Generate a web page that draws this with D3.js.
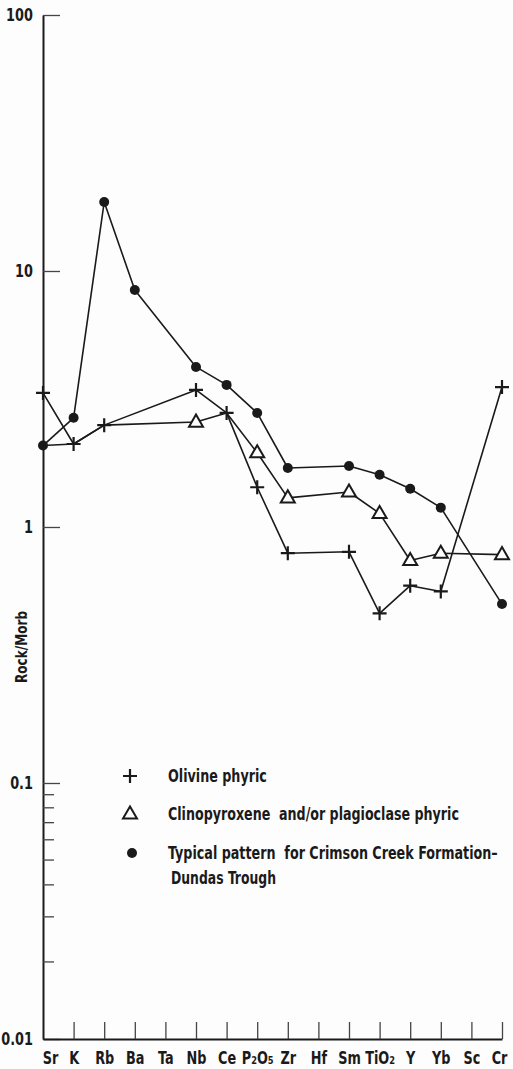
<!DOCTYPE html>
<html>
<head>
<meta charset="utf-8">
<script src="https://cdn.jsdelivr.net/npm/d3@7"></script>
<style>
  body { margin: 0; background: #fdfdfd; }
  svg text { font-family: "Liberation Sans Narrow", "DejaVu Sans Condensed", "Roboto Condensed", sans-serif; font-weight: bold; fill: #1a1a1a; }
</style>
</head>
<body>
<div id="chart"></div>
<script>
/* element order along the x axis */
const elements = ["Sr", "K", "Rb", "Ba", "Ta", "Nb", "Ce", "P2O5", "Zr", "Hf", "Sm", "TiO2", "Y", "Yb", "Sc", "Cr"];

/* rock / MORB ratios (null = not plotted) */
const olivineValues = [3.34, 2.11, 2.50, null, null, 3.43, 2.79, 1.43, 0.79, null, 0.80, 0.46, 0.59, 0.56, null, 3.52];
const cpxValues     = [2.08, 2.11, 2.50, null, null, 2.57, 2.79, 1.95, 1.30, null, 1.37, 1.13, 0.74, 0.79, null, 0.78];
/* the cpx line runs through shared points; triangles only drawn here */
const cpxMarked     = ["Nb", "P2O5", "Zr", "Sm", "TiO2", "Y", "Yb", "Cr"];
const crimsonValues = [2.08, 2.67, 18.6, 8.43, null, 4.22, 3.59, 2.79, 1.70, null, 1.73, 1.60, 1.41, 1.19, null, 0.50];

const yMajorTicks = [100, 10, 1, 0.1, 0.01];
const yMinorTicks = [0.02, 0.03, 0.04, 0.05, 0.06, 0.07, 0.08, 0.09];

const legendLabels = [
  ["Olivine phyric"],
  ["Clinopyroxene  and/or plagioclase phyric"],
  ["Typical pattern  for Crimson Creek Formation\u2013", "Dundas Trough"]
];

// layout
const W = 513, H = 1069;
const ink = "#1a1a1a";
const squeeze = "scale(0.84,1)";   // fake a condensed face

const svg = d3.select("#chart")
  .append("svg")
  .attr("width", W)
  .attr("height", H);

/* scales */
const xScale = d3.scalePoint()
  .domain(elements)
  .range([43, 502]);

const yScale = d3.scaleLog()
  .domain([0.01, 100])
  .range([1039, 15]);

/* y axis, ticks pointing into the plot */
const yAxis = d3.axisLeft(yScale)
  .tickValues(yMajorTicks)
  .tickFormat(d => d >= 1 ? d3.format("d")(d) : String(d))
  .tickSizeInner(-17)
  .tickSizeOuter(0)
  .tickPadding(12);

const yG = svg.append("g")
  .attr("transform", "translate(43,0)")
  .call(yAxis);

yG.select(".domain").attr("stroke", ink).attr("stroke-width", 2);
yG.selectAll(".tick line").attr("stroke", "#444").attr("stroke-width", 1.3);
yG.selectAll(".tick text")
  .attr("font-size", 17)
  .attr("fill", ink)
  .attr("transform", squeeze)
  .attr("dy", "0.3em");

/* minor ticks between 0.01 and 0.1 */
yG.selectAll(".minor")
  .data(yMinorTicks)
  .join("line")
    .attr("class", "minor")
    .attr("x1", 0)
    .attr("x2", 11)
    .attr("y1", d => yScale(d))
    .attr("y2", d => yScale(d))
    .attr("stroke", "#444")
    .attr("stroke-width", 1.3);

/* x axis */
const xAxis = d3.axisBottom(xScale)
  .tickSizeInner(-17)
  .tickSizeOuter(0)
  .tickPadding(13);

const xG = svg.append("g")
  .attr("transform", "translate(0,1039)")
  .call(xAxis);

xG.select(".domain").attr("stroke", ink).attr("stroke-width", 2);
xG.selectAll(".tick line").attr("stroke", "#444").attr("stroke-width", 1.3);
/* no tick at Sr, it sits on the y axis */
xG.selectAll(".tick").filter(d => d === "Sr").select("line").remove();

xG.selectAll(".tick text")
  .attr("font-size", 17)
  .attr("fill", ink)
  .attr("transform", d => d === "Sr" ? "translate(7,0) " + squeeze : d === "Cr" ? "translate(-3,0) " + squeeze : squeeze)
  .each(function(d) {
    const t = d3.select(this);
    const m = d.match(/^([A-Za-z]+?)(\d)([A-Za-z]*)(\d?)$/);
    if (!m) return;
    t.text(null);
    t.append("tspan").text(m[1]);
    t.append("tspan").attr("font-size", 11).text(m[2]);
    if (m[3]) {
      t.append("tspan").text(m[3]);
      t.append("tspan").attr("font-size", 11).text(m[4]);
    }
  });

/* y axis title */
svg.append("text")
  .attr("transform", "translate(27,647) rotate(-90) " + squeeze)
  .attr("text-anchor", "middle")
  .attr("font-size", 16)
  .text("Rock/Morb");

/* line generator that skips missing elements */
const line = d3.line()
  .defined(d => d.v != null)
  .x(d => xScale(d.k))
  .y(d => yScale(d.v));

function toPoints(values) {
  return elements.map((k, i) => ({k: k, v: values[i]})).filter(d => d.v != null);
}

const olivine = toPoints(olivineValues);
const cpx = toPoints(cpxValues);
const crimson = toPoints(crimsonValues);

const lines = svg.append("g");
[crimson, cpx, olivine].forEach(pts => {
  lines.append("path")
    .attr("d", line(pts))
    .attr("fill", "none")
    .attr("stroke", ink)
    .attr("stroke-width", 1.6)
    .attr("stroke-linejoin", "round");
});

/* marker shapes */
function drawCross(g, x, y) {
  g.append("path")
    .attr("d", `M${x - 7},${y}H${x + 7}M${x},${y - 7}V${y + 7}`)
    .attr("stroke", ink)
    .attr("stroke-width", 2.2);
}
function drawTriangle(g, x, y) {
  const s = 14, h = s * Math.sqrt(3) / 2;
  g.append("path")
    .attr("d", `M${x},${y - h * 0.62}L${x + s / 2},${y + h * 0.38}L${x - s / 2},${y + h * 0.38}Z`)
    .attr("fill", "#fdfdfd")
    .attr("stroke", ink)
    .attr("stroke-width", 2);
}
function drawDot(g, x, y) {
  g.append("circle")
    .attr("cx", x)
    .attr("cy", y)
    .attr("r", 5)
    .attr("fill", ink);
}

const marks = svg.append("g");
crimson.forEach(d => drawDot(marks, xScale(d.k), yScale(d.v)));
cpx.filter(d => cpxMarked.includes(d.k))
  .forEach(d => drawTriangle(marks, xScale(d.k), yScale(d.v)));
olivine.forEach(d => drawCross(marks, xScale(d.k), yScale(d.v)));

/* legend */
const legendY = [776, 814, 853];
const legendWidths = [[99], [291], [330, 105]];
const legend = svg.append("g");
drawCross(legend, 130, legendY[0]);
drawTriangle(legend, 130, legendY[1]);
drawDot(legend, 132, legendY[2]);

legendLabels.forEach((rows, i) => {
  rows.forEach((txt, j) => {
    const x0 = j ? 171 : 168, y0 = legendY[i] + j * 25;
    const t = legend.append("text")
      .attr("dy", "0.35em")
      .attr("font-size", 17)
      .style("white-space", "pre")
      .text(txt);
    /* squeeze each line to the width it has in the figure */
    const sx = legendWidths[i][j] / t.node().getComputedTextLength();
    t.attr("transform", `translate(${x0},${y0}) scale(${sx.toFixed(3)},1)`);
  });
});
</script>
</body>
</html>
